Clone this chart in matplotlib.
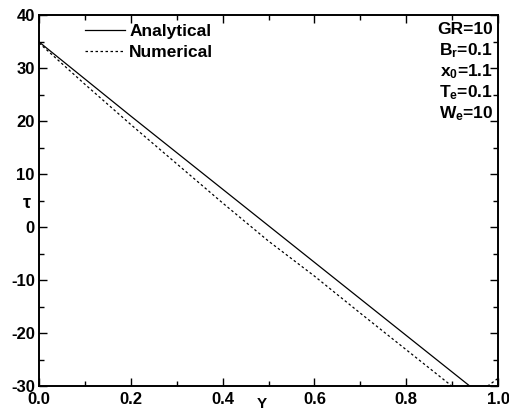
import matplotlib
matplotlib.use("Agg")
import matplotlib.pyplot as plt
from matplotlib.ticker import MultipleLocator

plt.rcParams['font.family'] = ['Liberation Sans', 'DejaVu Sans']
plt.rcParams['font.weight'] = 'bold'
plt.rcParams['axes.unicode_minus'] = False
plt.rcParams['mathtext.fontset'] = 'custom'
plt.rcParams['mathtext.rm'] = 'Liberation Sans:bold'
plt.rcParams['mathtext.bf'] = 'Liberation Sans:bold'
plt.rcParams['mathtext.it'] = 'Liberation Sans:bold'

# Data
y_analytical = [0.0, 0.2, 0.4, 0.6, 0.8, 1.0]
tau_analytical = [35.0, 21.0, 7.2, -6.6, -20.4, -34.2]

y_numerical = [0.0, 0.1, 0.2, 0.3, 0.4, 0.5, 0.6, 0.7, 0.8, 0.9, 0.94, 0.98, 1.0]
tau_numerical = [34.8, 27.0, 19.4, 12.0, 4.6, -2.6, -9.2, -16.2, -23.1, -30.0, -31.2, -29.8, -28.5]

params = ["GR=10", r"B$_{\mathrm{r}}$=0.1", r"x$_{\mathrm{0}}$=1.1",
          r"T$_{\mathrm{e}}$=0.1", r"W$_{\mathrm{e}}$=10"]

fig = plt.figure(figsize=(5.10, 4.12), dpi=100)
ax = fig.add_axes([0.0765, 0.0624, 0.9, 0.9002])

ax.plot(y_analytical, tau_analytical, color='black', lw=0.9, ls='-', label='Analytical')
ax.plot(y_numerical, tau_numerical, color='black', lw=0.9, ls=(0, (2.0, 2.0)), label='Numerical')

ax.set_xlim(0.0, 1.0)
ax.set_ylim(-30, 40)
ax.xaxis.set_major_locator(MultipleLocator(0.2))
ax.xaxis.set_minor_locator(MultipleLocator(0.1))
ax.yaxis.set_major_locator(MultipleLocator(10))
ax.yaxis.set_minor_locator(MultipleLocator(5))
ax.xaxis.set_major_formatter(matplotlib.ticker.FormatStrFormatter('%.1f'))
ax.tick_params(which='both', direction='in', top=True, right=True, width=1.0,
               labelsize=12)
ax.tick_params(which='major', length=6)
ax.tick_params(which='minor', length=3.5)
ax.tick_params(axis='x', pad=4)
ax.tick_params(axis='y', pad=3)
for lbl in ax.get_xticklabels() + ax.get_yticklabels():
    lbl.set_fontweight('bold')
for s in ax.spines.values():
    s.set_linewidth(1.4)

fig.text(27 / 510, 1 - 203 / 412, 'τ', fontsize=13, fontweight='bold', ha='center', va='center')
fig.text(262 / 510, 1 - 404 / 412, 'Y', fontsize=11, fontweight='bold', ha='center', va='center')

leg = ax.legend(loc='upper left', bbox_to_anchor=(0.1, 0.976), frameon=False,
                borderaxespad=0, borderpad=0,
                handlelength=2.3, handletextpad=0.25, labelspacing=0.3,
                prop={'weight': 'bold', 'size': 12.5})

ys = [30, 51, 72, 93, 114]
for t, yp in zip(params, ys):
    fig.text(493 / 510, 1 - yp / 412, t, fontsize=12.5, fontweight='bold',
             ha='right', va='center')

fig.savefig('out.png', dpi=100)
